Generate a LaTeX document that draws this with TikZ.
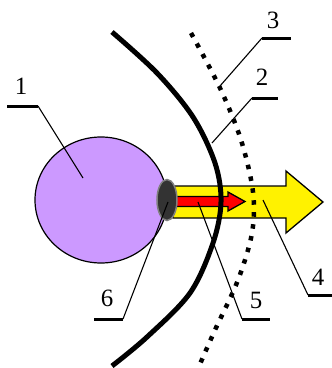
\documentclass[tikz,border=0pt]{standalone}
\usepackage{fontspec}
\setmainfont{Liberation Serif}
\usetikzlibrary{shapes.geometric}
\begin{document}
\begin{tikzpicture}[x=1bp,y=-1bp,
  lbl/.style={inner sep=0pt,font=\fontsize{25}{25}\selectfont},
  bar/.style={line width=3bp},
  leader/.style={line width=1.1bp},
  outl/.style={draw=black,line width=1.3bp,line join=miter}]
\useasboundingbox (0,0) rectangle (332,368);
% eye ball
\node[ellipse,minimum width=132bp,minimum height=126bp,inner sep=0pt,fill={rgb,255:red,204;green,153;blue,255},draw=black,line width=1.2bp] (ball) at (101,200) {};
% yellow arrow
\fill[yellow,outl] (173,186) -- (286,186) -- (286,171) -- (323,202) -- (286,233) -- (286,218) -- (173,218) -- cycle;
% red arrow
\fill[red,outl] (175,196.5) -- (228,196.5) -- (228,192) -- (245,201.5) -- (228,211) -- (228,206.5) -- (175,206.5) -- cycle;
% pupil
\node[ellipse,minimum width=20bp,minimum height=41bp,inner sep=0pt,fill={rgb,255:red,51;green,51;blue,51},draw={rgb,255:red,128;green,128;blue,128},line width=1.5bp] (pupil) at (167,200) {};
% solid curve
\draw[line width=5bp] plot[smooth,tension=0.55] coordinates {(112,32) (157,73) (193,117) (215,163) (221,202) (213,243) (190,293) (147,337) (112,366)};
% dotted curve
\draw[line width=4.5bp,dash pattern=on 4.5bp off 7.5bp] plot[smooth,tension=0.55] coordinates {(191,33) (220,88) (241,140) (253,192) (252,233) (238,280) (215,330) (200,364)};
% targets
\coordinate (t1) at (83,178);
\coordinate (t2) at (212,143);
\coordinate (t3) at (220,86);
\coordinate (t4) at (263,200);
\coordinate (t5) at (198,202);
\coordinate (t6) at (168,202);
% bars
\coordinate (b1a) at (7,106);  \coordinate (b1b) at (38,106);
\coordinate (b2a) at (252,98); \coordinate (b2b) at (278,98);
\coordinate (b3a) at (262,38); \coordinate (b3b) at (291,38);
\coordinate (b4a) at (308,295);\coordinate (b4b) at (332,295);
\coordinate (b5a) at (242,319);\coordinate (b5b) at (270,319);
\coordinate (b6a) at (94,319); \coordinate (b6b) at (123,319);
\draw[bar] (b1a) -- (b1b); \draw[leader] (b1b) -- (t1);
\draw[bar] (b2a) -- (b2b); \draw[leader] (b2a) -- (t2);
\draw[bar] (b3a) -- (b3b); \draw[leader] (b3a) -- (t3);
\draw[bar] (b4a) -- (b4b); \draw[leader] (b4a) -- (t4);
\draw[bar] (b5a) -- (b5b); \draw[leader] (b5a) -- (t5);
\draw[bar] (b6a) -- (b6b); \draw[leader] (b6b) -- (t6);
% labels
\node[lbl] (l1) at (21,86) {1};
\node[lbl] (l2) at (262,77) {2};
\node[lbl] (l3) at (273,20) {3};
\node[lbl] (l4) at (318,277) {4};
\node[lbl] (l5) at (256,300) {5};
\node[lbl] (l6) at (107,298) {6};
\end{tikzpicture}
\end{document}
